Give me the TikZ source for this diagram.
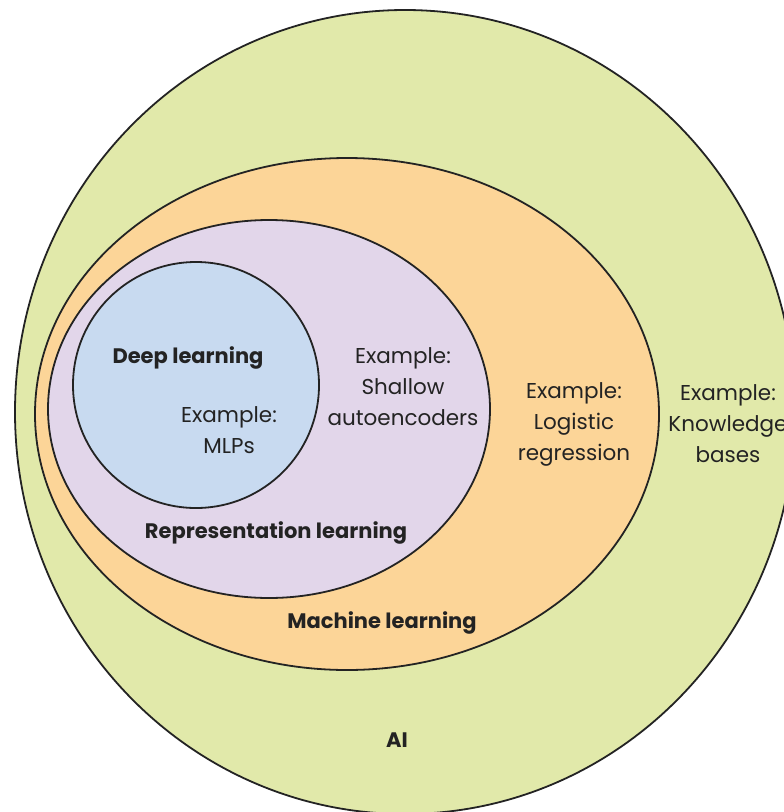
\documentclass[tikz,border=0pt]{standalone}
\usepackage{fontspec}
\setmainfont{Poppins}
\definecolor{aigreen}{RGB}{225,233,170}
\definecolor{mlorange}{RGB}{252,213,152}
\definecolor{rlpurple}{RGB}{226,214,234}
\definecolor{dlblue}{RGB}{200,218,240}
\definecolor{ink}{RGB}{35,35,35}
\tikzset{
  region/.style={draw=ink, line width=1.8pt},
  lbl/.style={text=ink, font=\fontsize{21.5}{31}\selectfont, align=center, inner sep=0pt},
  title/.style={text=ink, font=\fontsize{21}{31}\selectfont\bfseries, inner sep=0pt}
}
\begin{document}
\begin{tikzpicture}[x=1pt,y=-1pt]
\useasboundingbox (0,0) rectangle (784,812);
\clip (0,0) rectangle (784,812);
\fill[white] (0,0) rectangle (784,812);
\draw[region, fill=aigreen] (405,412) ellipse [x radius=390pt, y radius=402pt];
\draw[region, fill=mlorange] (347,414) ellipse [x radius=312pt, y radius=256pt];
\draw[region, fill=rlpurple] (269,409) ellipse [x radius=221pt, y radius=189pt];
\draw[region, fill=dlblue] (196,385) circle [radius=123pt];
\node[title] (dl) at (188,358) {Deep learning};
\node[lbl] (dlex) at (229,430) {Example:\\MLPs};
\node[lbl] (rlex) at (403,387) {Example:\\Shallow\\autoencoders};
\node[title] (rl) at (276,533) {Representation learning};
\node[title] (ml) at (382,623) {Machine learning};
\node[lbl] (mlex) at (574,424) {Example:\\Logistic\\regression};
\node[lbl] (aiex) at (728,424) {Example:\\Knowledge\\bases};
\node[title] (ai) at (397,740) {AI};
\end{tikzpicture}
\end{document}
